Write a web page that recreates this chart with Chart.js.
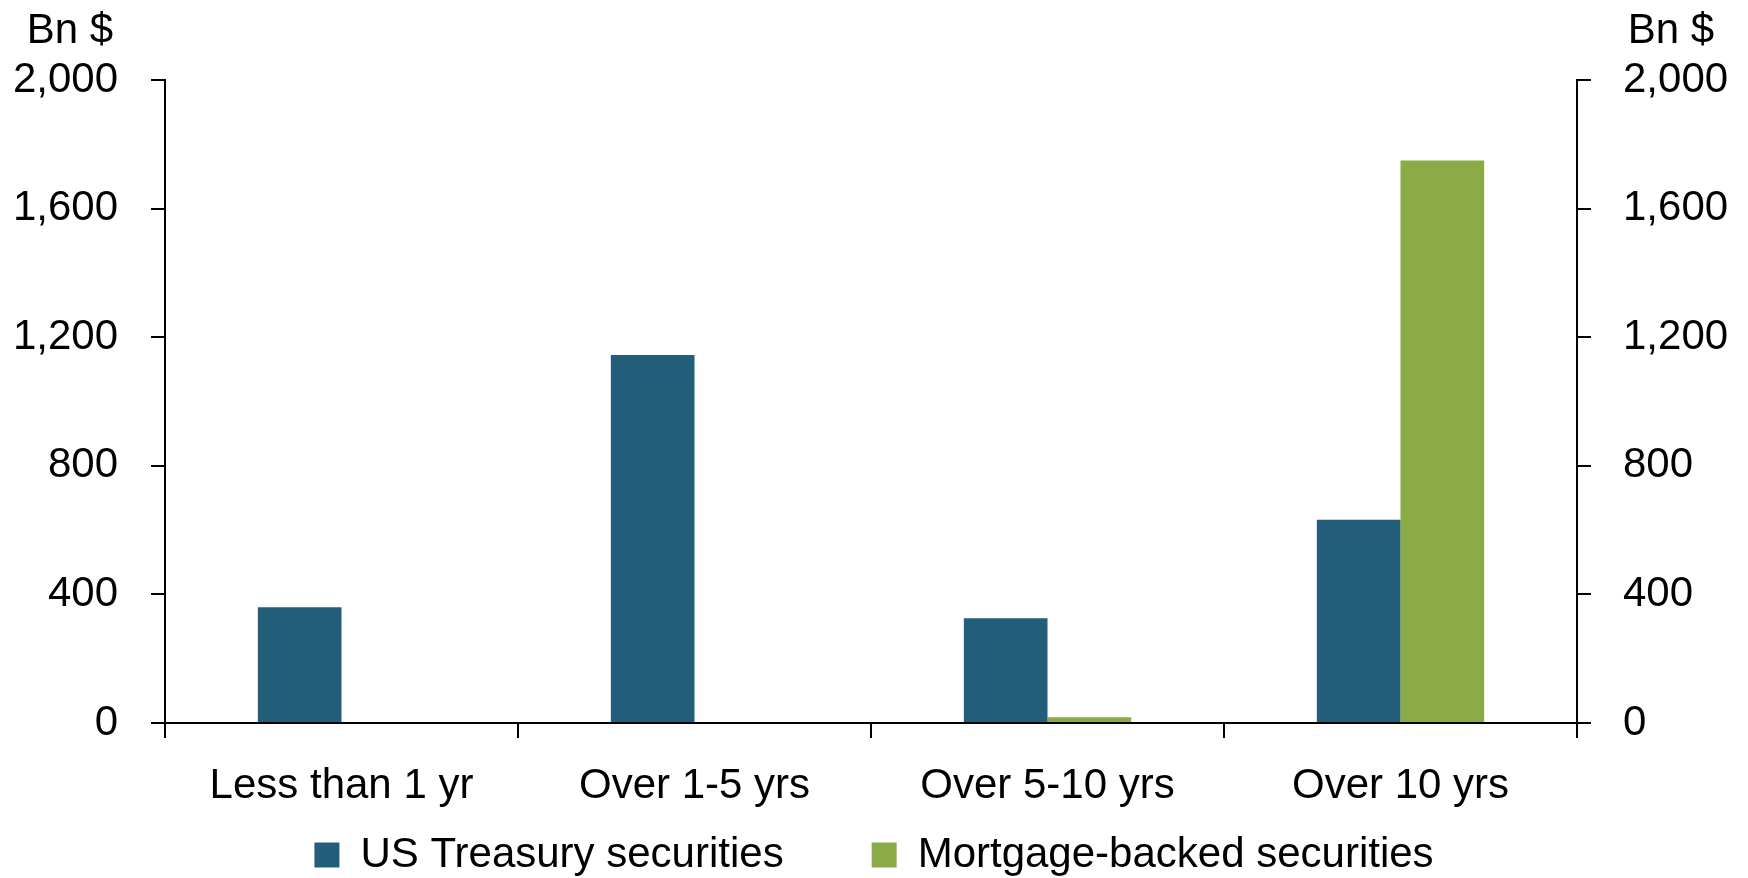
<!DOCTYPE html>
<html>
<head>
<meta charset="utf-8">
<script src="https://cdn.jsdelivr.net/npm/chart.js@4/dist/chart.umd.min.js"></script>
<style>
  html, body { margin: 0; padding: 0; background: #fff; }
</style>
</head>
<body>
<canvas id="maturityChart" width="1748" height="878"></canvas>
<script>
// Maturity buckets on the x axis
const categories = ["Less than 1 yr", "Over 1-5 yrs", "Over 5-10 yrs", "Over 10 yrs"];
// Holdings, billions of dollars
const treasuryValues = [360, 1145, 326, 632];
const mbsValues = [0, 0, 18, 1750];
const seriesNames = ["US Treasury securities", "Mortgage-backed securities"];
const axisTicks = [0, 400, 800, 1200, 1600, 2000];
const unitLabel = "Bn $";

const fontFamily = "'Liberation Sans', Arial, sans-serif";
const lineColor = "#000000";

// "Bn $" above both y axes
const unitTitles = {
  id: "unitTitles",
  afterDraw(chart) {
    const ctx = chart.ctx;
    ctx.save();
    ctx.font = "42px " + fontFamily;
    ctx.fillStyle = "#000";
    ctx.textAlign = "center";
    ctx.textBaseline = "middle";
    ctx.fillText(unitLabel, chart.scales.y.right - 95, 31);
    ctx.fillText(unitLabel, chart.scales.y1.left + 94, 31);
    ctx.restore();
  }
};

// legend padding is also used as vertical gap, so pull the row back up
const legendShift = {
  id: "legendShift",
  afterLayout(chart) {
    const lg = chart.legend;
    lg.top -= lg.options.labels.padding - 21;
  }
};

function yAxis(position, width, pad) {
  return {
    position: position,
    min: 0,
    max: 2000,
    afterBuildTicks: function (scale) {
      scale.ticks = axisTicks.map(v => ({ value: v }));
    },
    afterFit: function (scale) {
      scale.width = width;
    },
    ticks: {
      color: "#000",
      padding: pad,
      font: { family: fontFamily, size: 42 },
      callback: v => v.toLocaleString("en-US")
    },
    grid: {
      drawOnChartArea: false,
      drawTicks: true,
      tickLength: 14,
      color: lineColor,
      lineWidth: 2
    },
    border: { display: true, color: lineColor, width: 2 }
  };
}

new Chart(document.getElementById("maturityChart"), {
  type: "bar",
  data: {
    labels: categories,
    datasets: [
      {
        label: seriesNames[0],
        data: treasuryValues,
        backgroundColor: "#225e79",
        yAxisID: "y"
      },
      {
        label: seriesNames[1],
        data: mbsValues,
        backgroundColor: "#8aab46",
        yAxisID: "y1"
      }
    ]
  },
  options: {
    responsive: false,
    animation: false,
    devicePixelRatio: 1,
    categoryPercentage: 0.474,
    barPercentage: 1,
    layout: { padding: { top: 80, left: 0, right: 0, bottom: 0 } },
    plugins: {
      tooltip: { enabled: false },
      legend: {
        position: "bottom",
        maxHeight: 65,
        labels: {
          color: "#000",
          font: { family: fontFamily, size: 42 },
          boxWidth: 25,
          boxHeight: 25,
          padding: 88
        }
      }
    },
    scales: {
      x: {
        afterFit: function (scale) {
          scale.height = 90;
        },
        ticks: {
          color: "#000",
          padding: 23,
          maxRotation: 0,
          autoSkip: false,
          font: { family: fontFamily, size: 42 }
        },
        grid: {
          offset: true,
          drawOnChartArea: false,
          drawTicks: true,
          tickLength: 15,
          color: lineColor,
          lineWidth: 2
        },
        border: { display: true, color: lineColor, width: 2 }
      },
      y: yAxis("left", 165, 33),
      y1: yAxis("right", 171, 32)
    }
  },
  plugins: [unitTitles, legendShift]
});
</script>
</body>
</html>
